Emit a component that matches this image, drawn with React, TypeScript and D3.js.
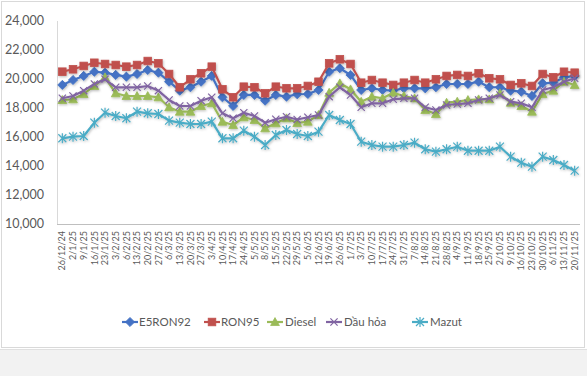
import React from "react";
import * as d3 from "d3";

const dates = [
  "26/12/24", "2/1/25", "9/1/25", "16/1/25", "23/1/25", "3/2/25", "6/2/25", "13/2/25", "20/2/25", "27/2/25",
  "6/3/25", "13/3/25", "20/3/25", "27/3/25", "3/4/25", "10/4/25", "17/4/25", "24/4/25", "5/5/25", "8/5/25",
  "15/5/25", "22/5/25", "29/5/25", "5/6/25", "12/6/25", "19/6/25", "26/6/25", "1/7/25", "3/7/25", "10/7/25",
  "17/7/25", "24/7/25", "31/7/25", "7/8/25", "14/8/25", "21/8/25", "28/8/25", "4/9/25", "11/9/25", "18/9/25",
  "25/9/25", "2/10/25", "9/10/25", "16/10/25", "23/10/25", "30/10/25", "6/11/25", "13/11/25", "20/11/25",
];

const e5ron92 = [
  19590, 19930, 20210, 20500, 20435, 20280, 20160, 20345, 20620, 20435,
  19815, 19195, 19430, 19815, 20210, 18740, 18140, 18900, 18900, 18505,
  18900, 18780, 18950, 18966, 19242, 20500, 20740, 20277, 19242, 19360,
  19242, 19195, 19360, 19360, 19360, 19430, 19656, 19656, 19656, 19815,
  19430, 19430, 19195, 19125, 18830, 19704, 19745, 20118, 20210,
];

const ron95 = [
  20504, 20670, 20900, 21120, 21035, 20966, 20850, 20966, 21240, 21080,
  20345, 19430, 19980, 20394, 20850, 19290, 18740, 19470, 19430, 19014,
  19470, 19360, 19360, 19520, 19810, 21080, 21360, 21035, 19745, 19930,
  19745, 19590, 19745, 19930, 19745, 19980, 20210, 20280, 20210, 20390,
  20050, 19980, 19590, 19700, 19520, 20345, 20120, 20500, 20435,
];

const diesel = [
  18552, 18600, 18966, 19518, 20118, 19014, 18828, 18828, 18828, 18738,
  18049, 17745, 17745, 18138, 18325, 17056, 16828, 17359, 17173, 16600,
  16945, 17290, 16966, 17056, 17518, 19056, 19704, 19290, 18435, 18780,
  18670, 19056, 18828, 18670, 17862, 17587, 18366, 18435, 18552, 18600,
  18600, 19014, 18366, 18138, 17745, 18966, 19194, 19815, 19587,
];

const dauHoa = [
  18670, 18828, 19194, 19656, 19980, 19428, 19428, 19428, 19518, 19194,
  18552, 18138, 18138, 18504, 18738, 17635, 17290, 17676, 17449, 16987,
  17221, 17400, 17207, 17359, 17518, 18780, 19428, 18897, 18049, 18325,
  18325, 18600, 18670, 18670, 18049, 17862, 18207, 18276, 18325, 18552,
  18670, 18897, 18435, 18325, 18049, 19242, 19428, 19815, 20049,
];

const mazut = [
  15911, 16021, 16069, 16987, 17676, 17449, 17290, 17745, 17635, 17587,
  17125, 16987, 16897, 16897, 17056, 15911, 15911, 16435, 16021, 15449,
  16138, 16483, 16207, 16069, 16366, 17518, 17173, 16897, 15676, 15449,
  15331, 15331, 15449, 15607, 15152, 14987, 15152, 15331, 15055, 15055,
  15055, 15331, 14642, 14228, 13952, 14642, 14414, 14069, 13676,
];

const yTicks = [10000, 12000, 14000, 16000, 18000, 20000, 22000, 24000];

const seriesNames = ["E5RON92", "RON95", "Diesel", "Dầu hỏa", "Mazut"];

type MarkerKind = "diamond" | "square" | "triangle" | "x" | "star";

const seriesList: { name: string; values: number[]; color: string; marker: MarkerKind }[] = [
  { name: seriesNames[0], values: e5ron92, color: "#4472C4", marker: "diamond" },
  { name: seriesNames[1], values: ron95, color: "#C0504D", marker: "square" },
  { name: seriesNames[2], values: diesel, color: "#9BBB59", marker: "triangle" },
  { name: seriesNames[3], values: dauHoa, color: "#8064A2", marker: "x" },
  { name: seriesNames[4], values: mazut, color: "#4BACC6", marker: "star" },
];

const W = 587;
const H = 376;
const plotLeft = 57;
const plotRight = 580;
const plotTop = 21;
const plotBottom = 224;
const FONT = "Lato, 'Open Sans', 'Liberation Sans', sans-serif";

function Marker({ kind, x, y, color }: { kind: MarkerKind; x: number; y: number; color: string }) {
  if (kind === "diamond") {
    const r = 4.6;
    return <path d={`M${x},${y - r}L${x + r},${y}L${x},${y + r}L${x - r},${y}Z`} fill={color} stroke={color} strokeWidth={0.8} />;
  }
  if (kind === "square") {
    const r = 3.8;
    return <rect x={x - r} y={y - r} width={2 * r} height={2 * r} fill={color} stroke={color} strokeWidth={0.8} />;
  }
  if (kind === "triangle") {
    const r = 4.4;
    return <path d={`M${x},${y - r}L${x + r},${y + r * 0.8}L${x - r},${y + r * 0.8}Z`} fill={color} stroke={color} strokeWidth={0.8} />;
  }
  if (kind === "x") {
    const r = 3.6;
    return <path d={`M${x - r},${y - r}L${x + r},${y + r}M${x - r},${y + r}L${x + r},${y - r}`} stroke={color} strokeWidth={1.2} fill="none" />;
  }
  const r = 4;
  return (
    <path
      d={`M${x - r},${y - r}L${x + r},${y + r}M${x - r},${y + r}L${x + r},${y - r}M${x},${y - r - 1}L${x},${y + r + 1}`}
      stroke={color}
      strokeWidth={1.2}
      fill="none"
    />
  );
}

export default function App() {
  const x = d3.scalePoint<string>().domain(dates).range([plotLeft, plotRight]).padding(0.5);
  const y = d3.scaleLinear().domain([10000, 24000]).range([plotBottom, plotTop]);

  const line = d3
    .line<number>()
    .x((_, i) => x(dates[i]) as number)
    .y((d) => y(d));

  const legendItems = [
    { lx: 122, tx: 139 },
    { lx: 204, tx: 221 },
    { lx: 267, tx: 285 },
    { lx: 326, tx: 344 },
    { lx: 412, tx: 430 },
  ];
  const legendY = 322;

  return (
    <svg width={W} height={H} style={{ position: "absolute", left: 0, top: 0, background: "#fff" }} fontFamily={FONT}>
      <defs>
        <filter id="sh" x="-5%" y="-20%" width="110%" height="140%">
          <feDropShadow dx="0.8" dy="1.2" stdDeviation="0.9" floodColor="#000" floodOpacity="0.25" />
        </filter>
      </defs>
      <rect x={0} y={0} width={W} height={H} fill="#fff" />
      <rect x={1.5} y={1.5} width={583} height={346} fill="#fff" stroke="#d9d9d9" />
      <rect x={0} y={349} width={W} height={H - 349} fill="#f2f2f2" />
      <line x1={0} x2={W} y1={349.5} y2={349.5} stroke="#e0e0e0" />

      {/* axes */}
      <line x1={plotLeft + 0.5} x2={plotLeft + 0.5} y1={plotTop} y2={plotBottom} stroke="#d9d9d9" />
      <line x1={plotLeft} x2={plotRight} y1={plotBottom + 0.5} y2={plotBottom + 0.5} stroke="#bfbfbf" />

      {yTicks.map((t) => (
        <text key={t} x={44} y={y(t)} dy="0.35em" textAnchor="end" fontSize={12.5} fill="#595959">
          {d3.format(",")(t)}
        </text>
      ))}

      {dates.map((d) => (
        <text
          key={d}
          transform={`translate(${x(d)},${231}) rotate(-90)`}
          textAnchor="end"
          dy="0.35em"
          fontSize={9}
          fill="#595959"
        >
          {d}
        </text>
      ))}

      {seriesList.map((s) => (
        <g key={s.name} filter="url(#sh)">
          <path d={line(s.values) || ""} fill="none" stroke={s.color} strokeWidth={2.2} strokeLinejoin="round" />
          {s.values.map((v, i) => (
            <Marker key={i} kind={s.marker} x={x(dates[i]) as number} y={y(v)} color={s.color} />
          ))}
        </g>
      ))}

      {seriesList.map((s, k) => {
        const it = legendItems[k];
        return (
          <g key={s.name}>
            <line x1={it.lx} x2={it.lx + 16} y1={legendY} y2={legendY} stroke={s.color} strokeWidth={2.2} />
            <Marker kind={s.marker} x={it.lx + 8} y={legendY} color={s.color} />
            <text x={it.tx} y={legendY} dy="0.35em" fontSize={11.5} fill="#595959">
              {s.name}
            </text>
          </g>
        );
      })}
    </svg>
  );
}
